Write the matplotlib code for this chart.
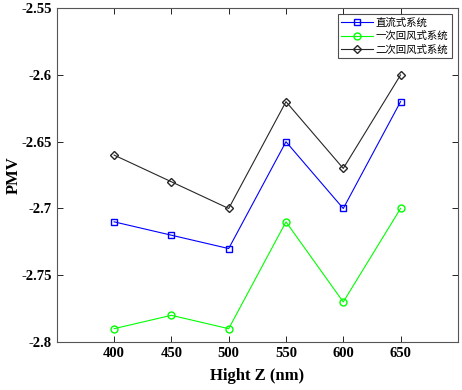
import matplotlib.pyplot as plt

heights = [400, 450, 500, 550, 600, 650]
direct_flow = [-2.71, -2.72, -2.73, -2.65, -2.70, -2.62]
primary_return = [-2.79, -2.78, -2.79, -2.71, -2.77, -2.70]
secondary_return = [-2.66, -2.68, -2.70, -2.62, -2.67, -2.60]
labels = ['直流式系统', '一次回风式系统', '二次回风式系统']
yticks = [-2.8, -2.75, -2.7, -2.65, -2.6, -2.55]

plt.rcParams['font.family'] = ['Liberation Serif', 'Noto Sans CJK SC']

fig = plt.figure(figsize=(4.62, 3.9), dpi=100)
ax = fig.add_axes([0.123, 0.123, 0.868, 0.856])

ax.plot(heights, direct_flow, color='#0000ff', marker='s', ms=5, mfc='none', lw=0.8, label=labels[0])
ax.plot(heights, primary_return, color='#00ff00', marker='o', ms=5, mfc='none', lw=0.8, label=labels[1])
ax.plot(heights, secondary_return, color='#262626', marker='D', ms=4.5, mfc='none', lw=0.8, label=labels[2])

ax.set_xlim(350, 700)
ax.set_ylim(-2.8, -2.55)
ax.set_xticks(heights)
ax.set_yticks(yticks)
ax.set_yticklabels([f'{v:g}' for v in yticks])
ax.tick_params(direction='in', top=True, right=True, labelsize=10.5, length=4, width=0.6)
for lbl in ax.get_xticklabels() + ax.get_yticklabels():
    lbl.set_fontweight('bold')
for s in ax.spines.values():
    s.set_color('#555555')
    s.set_linewidth(0.8)

ax.set_xlabel('Hight Z (nm)', fontsize=12, fontweight='bold')
ax.set_ylabel('PMV', fontsize=12, fontweight='bold')
ax.xaxis.set_label_coords(0.5, -0.078)
ax.yaxis.set_label_coords(-0.088, 0.5)

leg = ax.legend(loc='upper right', frameon=True, fancybox=False,
                edgecolor='#222222', borderpad=0.3, labelspacing=0.3,
                handlelength=3.0, handletextpad=0.3, borderaxespad=0.6,
                prop={'family': ['Noto Sans CJK SC'], 'size': 7.5})
leg.get_frame().set_linewidth(0.8)

fig.savefig('out.png', dpi=100)
